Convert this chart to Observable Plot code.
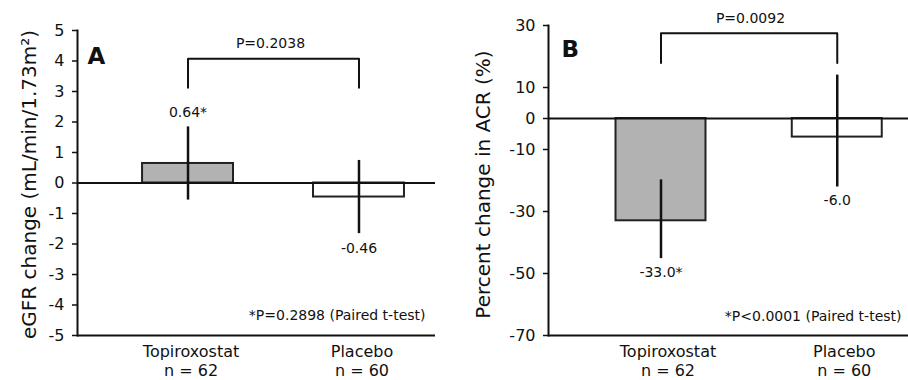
<!DOCTYPE html>
<html><head><meta charset="utf-8">
<script src="https://cdn.jsdelivr.net/npm/d3@7"></script>
<script src="https://cdn.jsdelivr.net/npm/@observablehq/plot@0.6"></script>
<style>
body{margin:0;background:#fff;}
#wrap{display:flex;width:908px;height:380px;}
#wrap svg{display:block;flex:none;}
</style></head><body><div id="wrap"></div>
<script>
const groups = ["Topiroxostat", "Placebo"];
const groupN = ["n = 62", "n = 60"];

// Panel A: eGFR change
const egfrMean = [0.64, -0.46];
const egfrLow = [-0.56, -1.66];
const egfrHigh = [1.84, 0.74];
const egfrText = ["0.64*", "-0.46"];
const egfrTicks = [-5, -4, -3, -2, -1, 0, 1, 2, 3, 4, 5];
const egfrBracketY = [3.12, 4.07];
const egfrP = "P=0.2038";
const egfrNote = "*P=0.2898 (Paired t-test)";
const egfrTitle = "eGFR change (mL/min/1.73m²)";

// Panel B: percent change in ACR
const acrMean = [-33.0, -6.0];
const acrLow = [-45.2, -22.1];
const acrHigh = [-19.8, 14.0];
const acrText = ["-33.0*", "-6.0"];
const acrTicks = [30, 10, 0, -10, -30, -50, -70];
const acrBracketY = [17.9, 27.5];
const acrP = "P=0.0092";
const acrNote = "*P<0.0001 (Paired t-test)";
const acrTitle = "Percent change in ACR (%)";

function panel(c) {
  const rows = groups.map((g, i) => ({group: g, n: groupN[i], mean: c.mean[i], low: c.low[i], high: c.high[i], text: c.text[i]}));
  const bracket = [
    {group: groups[0], y: c.bracketY[0]}, {group: groups[0], y: c.bracketY[1]},
    {group: groups[1], y: c.bracketY[1]}, {group: groups[1], y: c.bracketY[0]}
  ];
  const ink = "#111";
  return Plot.plot({
    width: 454, height: 380,
    marginLeft: c.m[0], marginRight: c.m[1], marginTop: c.m[2], marginBottom: c.m[3],
    style: {fontFamily: "'DejaVu Sans', sans-serif", fontSize: "16px", color: ink, background: "#fff", overflow: "visible"},
    x: {type: "band", domain: groups, paddingInner: c.band[0], paddingOuter: c.band[1], align: c.band[2], round: false, axis: null},
    y: {domain: c.domain, axis: null},
    marks: [
      Plot.barY(rows, {x: "group", y: "mean", fill: d => d.group === groups[0] ? "#b2b2b2" : "#ffffff", stroke: "#222", strokeWidth: 2}),
      Plot.ruleY([0], {stroke: ink, strokeWidth: 2}),
      Plot.ruleX(rows, {x: "group", y1: "low", y2: "high", stroke: ink, strokeWidth: 2.5}),
      Plot.line(bracket, {x: "group", y: "y", stroke: ink, strokeWidth: 2}),
      Plot.text([{y: c.bracketY[1], label: c.pText}], {y: "y", text: "label", dx: c.pDx, dy: -15, fontSize: 14}),
      Plot.text(rows.filter(d => d.mean > 0), {x: "group", y: "high", text: "text", dy: -14, fontSize: 14}),
      Plot.text(rows.filter(d => d.mean <= 0), {x: "group", y: "low", text: "text", dy: c.lowDy, fontSize: 14}),
      Plot.text(rows, {x: "group", text: d => `${d.group}\n${d.n}`, frameAnchor: "bottom", lineAnchor: "top", dy: 8, dx: c.catDx, lineHeight: 1.2, fontSize: 16}),
      Plot.axisY(c.ticks, {tickSize: 5, tickPadding: 8, tickFormat: d => `${d}`, label: null, fontSize: 16, stroke: ink, strokeWidth: 1.5}),
      Plot.text([c.title], {frameAnchor: "left", textAnchor: "middle", lineAnchor: "middle", rotate: -90, dx: c.titleDx, dy: c.titleDy, fontSize: 20}),
      Plot.text([c.letter], {frameAnchor: "top-left", textAnchor: "start", dx: c.letterD[0], dy: c.letterD[1], fontSize: 23, fontWeight: "bold"}),
      Plot.text([c.note], {frameAnchor: "bottom-right", textAnchor: "end", dx: c.noteD[0], dy: c.noteD[1], fontSize: 14}),
      Plot.frame({anchor: "left", stroke: ink, strokeWidth: 2}),
      Plot.ruleY([c.domain[0]], {stroke: ink, strokeWidth: 2})
    ]
  });
}

const wrap = document.getElementById("wrap");
wrap.append(panel({
  letter: "A", title: egfrTitle, mean: egfrMean, low: egfrLow, high: egfrHigh, text: egfrText,
  ticks: egfrTicks, domain: [-5, 5], bracketY: egfrBracketY, pText: egfrP, note: egfrNote,
  m: [77, 19, 30, 45], band: [0.468, 0.281, 0.677],
  pDx: 14, lowDy: 15, catDx: 3, titleDx: -48, titleDy: 1.5, letterD: [10, 17], noteD: [-10, -16]
}));
wrap.append(panel({
  letter: "B", title: acrTitle, mean: acrMean, low: acrLow, high: acrHigh, text: acrText,
  ticks: acrTicks, domain: [-70, 30], bracketY: acrBracketY, pText: acrP, note: acrNote,
  m: [94, 0, 25, 45], band: [0.4895, 0.266, 0.72],
  pDx: 22, lowDy: 14, catDx: 7, titleDx: -65, titleDy: 4, letterD: [13, 15], noteD: [-7, -15]
}));
</script></body></html>
